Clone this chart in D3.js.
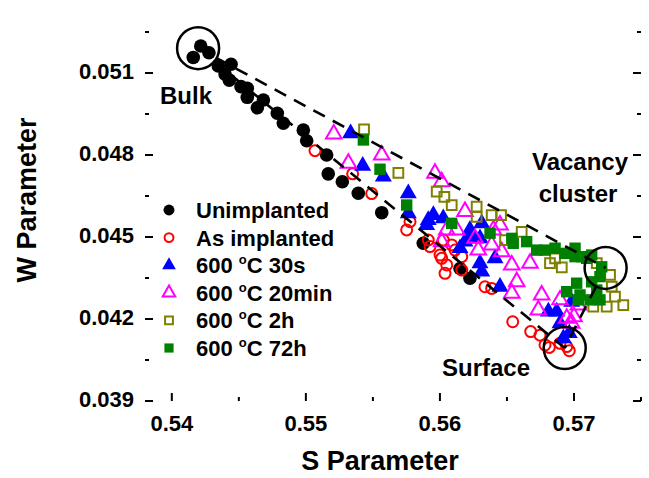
<!DOCTYPE html>
<html>
<head>
<meta charset="utf-8">
<script src="https://cdn.jsdelivr.net/npm/d3@7"></script>
<style>
  body { margin: 0; background: #fff; }
  svg text { font-family: "Liberation Sans", Arial, sans-serif; font-weight: bold; fill: #000; }
</style>
</head>
<body>
<svg class="chart"></svg>
<script>
// S / W parameter data
var unimplanted = [
  [0.54160,0.05157],[0.54216,0.05199],[0.54277,0.05174],[0.54347,0.05126],[0.54442,0.05132],
  [0.54397,0.05096],[0.54429,0.05074],[0.54516,0.05050],[0.54563,0.05044],[0.54563,0.05011],
  [0.54683,0.05001],[0.54638,0.04973],[0.54787,0.04953],[0.54832,0.04916],[0.54981,0.04891],
  [0.55006,0.04852],[0.55155,0.04800],[0.55167,0.04731],[0.55272,0.04702],[0.55391,0.04660],
  [0.55566,0.04589],[0.55876,0.04477],[0.56150,0.04385],[0.56224,0.04349]
];
var asImplanted = [
  [0.55068,0.04816],[0.55349,0.04731],[0.55491,0.04659],[0.55777,0.04556],[0.55752,0.04526],
  [0.55913,0.04489],[0.55926,0.04465],[0.56025,0.04489],[0.56088,0.04471],[0.56001,0.04434],
  [0.56013,0.04422],[0.56163,0.04428],[0.56051,0.04398],[0.56038,0.04367],[0.56163,0.04379],
  [0.56113,0.04452],[0.56336,0.04318],[0.56386,0.04312],[0.56543,0.04190],[0.56677,0.04154],
  [0.56747,0.04141],[0.56784,0.04105],[0.56816,0.04096],[0.56896,0.04111],[0.56965,0.04084],
  [0.56946,0.04099]
];
var a30s = [
  [0.55334,0.04879],[0.55424,0.04760],[0.55578,0.04721],[0.55764,0.04660],[0.55764,0.04587],
  [0.55913,0.04562],[0.55951,0.04580],[0.56025,0.04568],[0.55901,0.04544],[0.56224,0.04526],
  [0.56312,0.04550],[0.56237,0.04501],[0.56187,0.04483],[0.56299,0.04495],[0.56150,0.04459],
  [0.56411,0.04422],[0.56299,0.04404],[0.56312,0.04373],[0.56448,0.04318],[0.56809,0.04227],
  [0.56871,0.04227],[0.56896,0.04184],[0.56965,0.04148],[0.56921,0.04129],[0.56983,0.04263]
];
var a20min = [
  [0.55208,0.04877],[0.55317,0.04770],[0.55566,0.04800],[0.55963,0.04733],[0.56013,0.04702],
  [0.56187,0.04593],[0.56448,0.04544],[0.56051,0.04526],[0.56125,0.04526],[0.56013,0.04483],
  [0.56286,0.04452],[0.56386,0.04471],[0.56461,0.04446],[0.56536,0.04398],[0.56672,0.04404],
  [0.56573,0.04336],[0.56536,0.04294],[0.56759,0.04288],[0.56734,0.04233],[0.56896,0.04270],
  [0.56946,0.04203],[0.57000,0.04208],[0.57032,0.04251],[0.56983,0.04184],[0.56262,0.04495],
  [0.56399,0.04526]
];
var a2h = [
  [0.55434,0.04894],[0.55690,0.04735],[0.55976,0.04666],[0.56033,0.04647],[0.56088,0.04617],
  [0.56274,0.04611],[0.56274,0.04574],[0.56386,0.04580],[0.56456,0.04580],[0.56486,0.04489],
  [0.56610,0.04519],[0.56821,0.04404],[0.56909,0.04389],[0.56859,0.04422],[0.57144,0.04245],
  [0.57244,0.04245],[0.57282,0.04318],[0.57306,0.04282],[0.57368,0.04251],[0.57269,0.04361],
  [0.57170,0.04404]
];
var a72h = [
  [0.55429,0.04855],[0.55553,0.04748],[0.55752,0.04617],[0.56088,0.04550],[0.56374,0.04514],
  [0.56536,0.04495],[0.56547,0.04477],[0.56647,0.04483],[0.56722,0.04452],[0.56784,0.04452],
  [0.56859,0.04459],[0.56933,0.04440],[0.57008,0.04459],[0.57008,0.04428],[0.57058,0.04428],
  [0.57132,0.04434],[0.57095,0.04422],[0.57207,0.04391],[0.57194,0.04355],[0.57132,0.04336],
  [0.57170,0.04306],[0.57020,0.04331],[0.56946,0.04300],[0.57045,0.04288],[0.57120,0.04270],
  [0.57194,0.04270],[0.57032,0.04270]
];

var seriesNames = ["Unimplanted", "As implanted", "600 \u00B0C 30s", "600 \u00B0C 20min", "600 \u00B0C 2h", "600 \u00B0C 72h"];
var xTicks = [0.54, 0.55, 0.56, 0.57];
var yTicks = [0.039, 0.042, 0.045, 0.048, 0.051];

// circled regions: bulk, vacancy cluster, surface
var bulkPt = [0.54196, 0.05191];
var vacancyPt = [0.57236, 0.04387];
var surfacePt = [0.56931, 0.04094];

var W = 649, H = 478;
var svg = d3.select(".chart").attr("width", W).attr("height", H);

var x = d3.scaleLinear().domain([0.538, 0.575]).range([145, 641]);
var y = d3.scaleLinear().domain([0.039, 0.05325]).range([401, 11.5]);

var series = [
  {data: unimplanted, shape: d3.symbolCircle, size: 145, fill: "#000", stroke: "none"},
  {data: asImplanted, shape: d3.symbolCircle, size: 95, fill: "none", stroke: "#ff0000"},
  {data: a30s, shape: d3.symbolTriangle, size: 125, fill: "#0000ff", stroke: "none"},
  {data: a20min, shape: d3.symbolTriangle, size: 105, fill: "none", stroke: "#ff00ff"},
  {data: a2h, shape: d3.symbolSquare, size: 95, fill: "none", stroke: "#808000"},
  {data: a72h, shape: d3.symbolSquare, size: 130, fill: "#008000", stroke: "none"}
];

// points
series.forEach(function(s) {
  svg.append("g").selectAll("path")
    .data(s.data)
    .enter().append("path")
    .attr("transform", function(d) { return "translate(" + x(d[0]) + "," + y(d[1]) + ")"; })
    .attr("d", d3.symbol().type(s.shape).size(s.size))
    .attr("fill", s.fill)
    .attr("stroke", s.stroke)
    .attr("stroke-width", 2);
});

// dashed guide lines (triangle bulk - vacancy - surface)
var guides = [[bulkPt, vacancyPt], [bulkPt, surfacePt], [vacancyPt, surfacePt]];
var rCirc = 21;
svg.append("g").selectAll("line")
  .data(guides)
  .enter().append("line")
  .each(function(d) {
    var x1 = x(d[0][0]), y1 = y(d[0][1]), x2 = x(d[1][0]), y2 = y(d[1][1]);
    var len = Math.sqrt((x2 - x1) * (x2 - x1) + (y2 - y1) * (y2 - y1));
    var ux = (x2 - x1) / len, uy = (y2 - y1) / len;
    d3.select(this)
      .attr("x1", x1 + ux * rCirc).attr("y1", y1 + uy * rCirc)
      .attr("x2", x2).attr("y2", y2);
  })
  .attr("stroke", "#000")
  .attr("stroke-width", 2.6)
  .attr("stroke-dasharray", "13,9");

svg.append("g").selectAll("circle")
  .data([bulkPt, vacancyPt, surfacePt])
  .enter().append("circle")
  .attr("cx", function(d) { return x(d[0]); })
  .attr("cy", function(d) { return y(d[1]); })
  .attr("r", rCirc)
  .attr("fill", "none")
  .attr("stroke", "#000")
  .attr("stroke-width", 2.5);

// frame and ticks
var left = x.range()[0], right = x.range()[1], top = y.range()[1], bottom = y.range()[0];
svg.append("rect")
  .attr("x", left).attr("y", top)
  .attr("width", right - left).attr("height", bottom - top)
  .attr("fill", "none").attr("stroke", "#000").attr("stroke-width", 2.8);

var xMinor = d3.range(0.54, 0.5751, 0.005);
var yMinor = d3.range(0.039, 0.0531, 0.0015);
var tg = svg.append("g").attr("stroke", "#000").attr("stroke-width", 2);
xMinor.forEach(function(v, i) {
  var len = (i % 2 === 0) ? 8 : 4;
  tg.append("line").attr("x1", x(v)).attr("x2", x(v)).attr("y1", bottom).attr("y2", bottom - len);
  tg.append("line").attr("x1", x(v)).attr("x2", x(v)).attr("y1", top).attr("y2", top + len);
});
yMinor.forEach(function(v, i) {
  var len = (i % 2 === 0) ? 8 : 4;
  tg.append("line").attr("y1", y(v)).attr("y2", y(v)).attr("x1", left).attr("x2", left + len);
  tg.append("line").attr("y1", y(v)).attr("y2", y(v)).attr("x1", right).attr("x2", right - len);
});

svg.append("g").selectAll("text")
  .data(xTicks)
  .enter().append("text")
  .attr("x", function(d) { return x(d); })
  .attr("y", 431)
  .attr("text-anchor", "middle")
  .style("font-size", "22px")
  .text(function(d) { return d3.format(".2f")(d); });

svg.append("g").selectAll("text")
  .data(yTicks)
  .enter().append("text")
  .attr("x", 134)
  .attr("y", function(d) { return y(d) + 6; })
  .attr("text-anchor", "end")
  .style("font-size", "22px")
  .text(function(d) { return d3.format(".3f")(d); });

svg.append("text")
  .attr("x", 380).attr("y", 470)
  .attr("text-anchor", "middle")
  .style("font-size", "27px")
  .text("S Parameter");

svg.append("text")
  .attr("transform", "translate(36,200) rotate(-90)")
  .attr("text-anchor", "middle")
  .style("font-size", "27px")
  .text("W Parameter");

// annotations
svg.append("text").attr("x", 186).attr("y", 104).attr("text-anchor", "middle").style("font-size", "24px").text("Bulk");
svg.append("text").attr("x", 580).attr("y", 170).attr("text-anchor", "middle").style("font-size", "24px").text("Vacancy");
svg.append("text").attr("x", 578).attr("y", 202).attr("text-anchor", "middle").style("font-size", "24px").text("cluster");
svg.append("text").attr("x", 486).attr("y", 376).attr("text-anchor", "middle").style("font-size", "24px").text("Surface");

// legend
var legend = svg.append("g");
series.forEach(function(s, i) {
  var ly = 210 + i * 27.6;
  legend.append("path")
    .attr("transform", "translate(169," + ly + ")")
    .attr("d", d3.symbol().type(s.shape).size(s.size * 0.65))
    .attr("fill", s.fill)
    .attr("stroke", s.stroke)
    .attr("stroke-width", 2);
  var parts = seriesNames[i].split(" \u00B0C");
  var t = legend.append("text").attr("x", 196).attr("y", ly + 8).style("font-size", "22px");
  if (parts.length > 1) {
    t.append("tspan").text(parts[0] + " ");
    t.append("tspan").attr("dy", -9).style("font-size", "13px").text("o");
    t.append("tspan").attr("dy", 9).text("C" + parts[1]);
  } else {
    t.text(seriesNames[i]);
  }
});
</script>
</body>
</html>
